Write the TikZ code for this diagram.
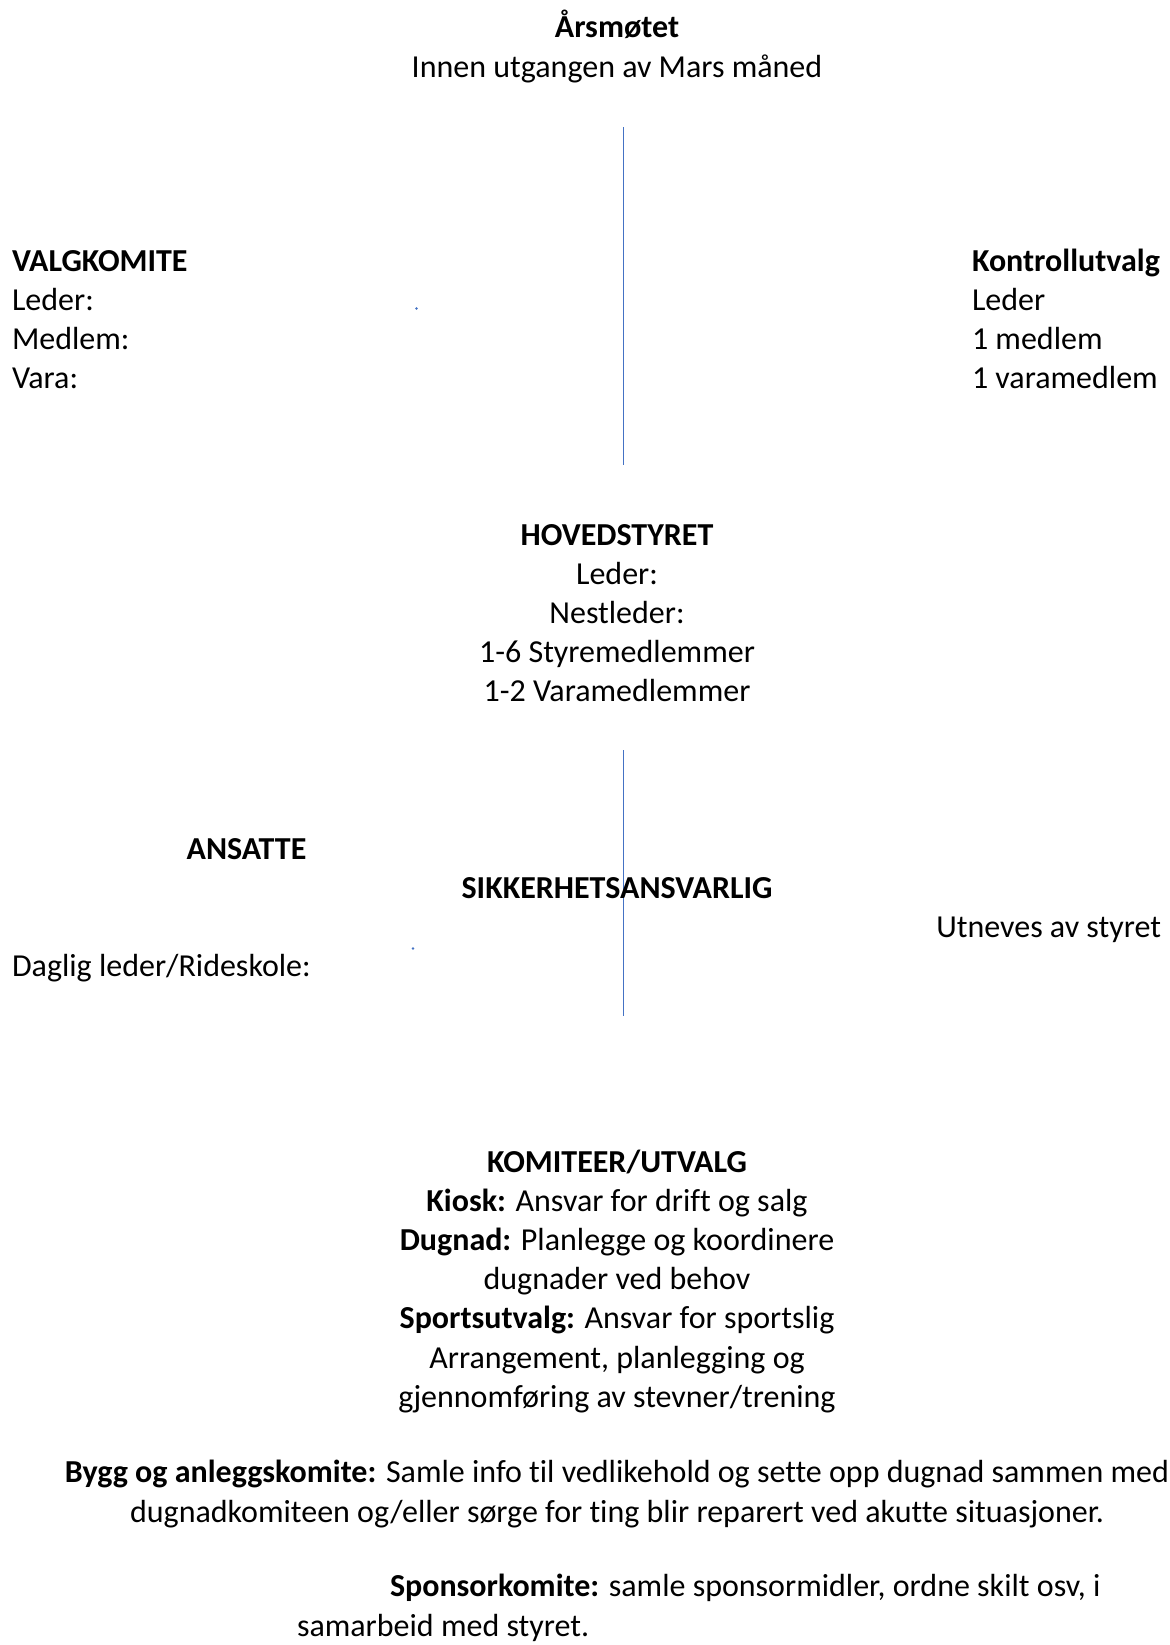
\documentclass[tikz,border=0pt]{standalone}
\usepackage{fontspec}
\setmainfont[Ligatures=NoCommon]{Carlito}
\definecolor{lineblue}{HTML}{4472C4}
\begin{document}
\begin{tikzpicture}[x=0.5pt,y=-0.5pt,
  txt/.style={inner sep=0pt, outer sep=0pt, font=\fontsize{16}{19.6}\selectfont},
  ctxt/.style={txt, align=center, anchor=base},
  ltxt/.style={txt, align=left, anchor=base west},
  rtxt/.style={txt, align=right, anchor=base east},
  conn/.style={draw=lineblue, line width=0.6pt},
  blip/.style={fill=lineblue}]
\useasboundingbox (0,0) rectangle (1170,1645);
\fill[white] (0,0) rectangle (1170,1645);

% multi-line nodes: base anchor is the baseline of the last line
\node[ctxt] (aars) at (617,77) {\textbf{Årsmøtet}\\Innen utgangen av Mars måned};

\coordinate (c1top) at (623.5,127);
\coordinate (c1bot) at (623.5,465);
\draw[conn] (c1top) -- (c1bot);

\node[ltxt] (valg) at (12,388.6) {\textbf{VALGKOMITE}\\Leder:\\Medlem:\\Vara:};
\node[ltxt] (kontroll) at (972,388.6) {\textbf{Kontrollutvalg}\\Leder\\1 medlem\\1 varamedlem};
\fill[blip] (416.5,308.5) circle[radius=0.7pt];

\node[ctxt] (hoved) at (617,701.8) {\textbf{HOVEDSTYRET}\\Leder:\\Nestleder:\\1-6 Styremedlemmer\\1-2 Varamedlemmer};

\coordinate (c2top) at (623.5,750);
\coordinate (c2bot) at (623.5,1016);
\draw[conn] (c2top) -- (c2bot);

\node[ctxt] (ansatte) at (246.5,859) {\textbf{ANSATTE}};
\node[ctxt] (sikker) at (617,898) {\textbf{SIKKERHETSANSVARLIG}};
\node[rtxt] (utnev) at (1161,937.5) {Utneves av styret};
\node[ltxt] (daglig) at (12,976.5) {Daglig leder/Rideskole:};
\fill[blip] (413,948.5) circle[radius=0.7pt];

\node[ctxt] (komiteer) at (617,1407.2) {\textbf{KOMITEER/UTVALG}\\\textbf{Kiosk:} Ansvar for drift og salg\\\textbf{Dugnad:} Planlegge og koordinere\\dugnader ved behov\\\textbf{Sportsutvalg:} Ansvar for sportslig\\Arrangement, planlegging og\\gjennomføring av stevner/trening};

\node[ctxt] (bygg) at (617,1522) {\textbf{Bygg og anleggskomite:} Samle info til vedlikehold og sette opp dugnad sammen med\\dugnadkomiteen og/eller sørge for ting blir reparert ved akutte situasjoner.};

\node[ltxt] (sponsor) at (297,1636) {\hspace*{46.5pt}\textbf{Sponsorkomite:} samle sponsormidler, ordne skilt osv, i\\samarbeid med styret.};
\end{tikzpicture}
\end{document}
